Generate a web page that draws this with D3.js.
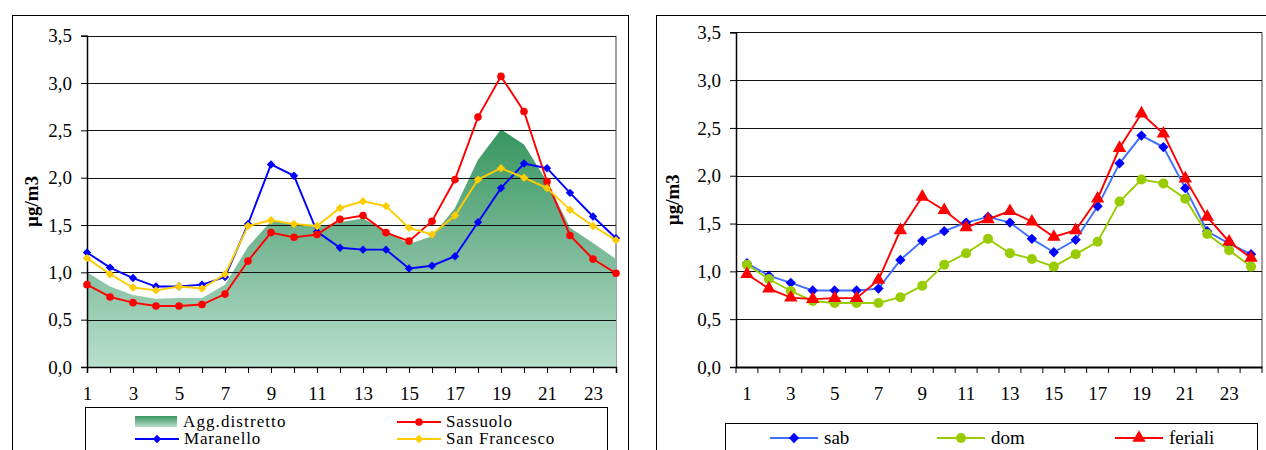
<!DOCTYPE html>
<html><head><meta charset="utf-8">
<script src="https://cdn.jsdelivr.net/npm/d3@7"></script>
<style>
html,body{margin:0;padding:0;background:#fff;}
</style></head>
<body>
<svg id="chart" width="1266" height="450"></svg>
<script>
// ---------- DATA ----------
const hours = d3.range(1, 25);
const yTicks = [0, 0.5, 1.0, 1.5, 2.0, 2.5, 3.0, 3.5];

// Left chart
const aggDistretto = [1.00,0.85,0.76,0.72,0.73,0.73,0.87,1.27,1.54,1.52,1.48,1.53,1.57,1.44,1.30,1.38,1.68,2.19,2.51,2.35,1.96,1.47,1.31,1.14];
const maranello    = [1.21,1.05,0.94,0.85,0.85,0.87,0.95,1.51,2.14,2.02,1.43,1.26,1.24,1.24,1.04,1.07,1.17,1.53,1.89,2.15,2.10,1.84,1.59,1.36];
const sassuolo     = [0.87,0.74,0.68,0.645,0.645,0.66,0.77,1.12,1.42,1.37,1.40,1.56,1.60,1.42,1.33,1.54,1.98,2.64,3.07,2.70,1.96,1.39,1.14,0.99];
const sanFrancesco = [1.15,0.98,0.84,0.81,0.85,0.83,0.98,1.49,1.55,1.51,1.49,1.68,1.75,1.70,1.47,1.40,1.60,1.98,2.10,2.00,1.89,1.66,1.49,1.34];

// Right chart
const sab     = [1.085,0.955,0.88,0.80,0.80,0.80,0.82,1.12,1.32,1.42,1.51,1.57,1.51,1.34,1.20,1.33,1.68,2.13,2.42,2.30,1.87,1.42,1.29,1.18];
const dom     = [1.07,0.92,0.795,0.69,0.67,0.67,0.67,0.73,0.85,1.07,1.19,1.34,1.19,1.13,1.05,1.18,1.31,1.73,1.96,1.92,1.76,1.39,1.22,1.05];
const feriali = [0.97,0.82,0.725,0.71,0.72,0.72,0.91,1.43,1.78,1.64,1.46,1.545,1.63,1.52,1.36,1.43,1.76,2.29,2.65,2.44,1.97,1.57,1.31,1.14];

const yLabel = "µg/m3";
const FONT = "'Liberation Serif', 'Times New Roman', Times, 'DejaVu Serif', serif";
const fmt = d => d3.format(".1f")(d).replace(".", ",");

const svg = d3.select("#chart");
const defs = svg.append("defs");

function addGrad(id){
  const g = defs.append("linearGradient").attr("id", id).attr("x1",0).attr("y1",0).attr("x2",0).attr("y2",1);
  g.append("stop").attr("offset","0%").attr("stop-color","#36965f");
  g.append("stop").attr("offset","45%").attr("stop-color","#74b592");
  g.append("stop").attr("offset","100%").attr("stop-color","#b8dfcb");
}
addGrad("areaGrad");
addGrad("legGrad");

function diamond(s){ return d3.symbol().type(d3.symbolDiamond2).size(s)(); }

// ---------- LEFT CHART ----------
(function(){
  const L = 87, R = 616, T = 35.7, B = 367;
  svg.append("rect").attr("x",12.5).attr("y",15.5).attr("width",616).attr("height",500)
     .attr("fill","none").attr("stroke","#000").attr("stroke-width",1);

  const x = d3.scalePoint().domain(hours).range([L, R]);
  const y = d3.scaleLinear().domain([0, 3.5]).range([B, T]);

  svg.append("line").attr("x1",R).attr("x2",R).attr("y1",T).attr("y2",B).attr("stroke","#808080").attr("stroke-width",1.5);

  const area = d3.area().x((d,i)=>x(hours[i])).y0(y(0)).y1(d=>y(d));
  svg.append("path").datum(aggDistretto).attr("d", area).attr("fill","url(#areaGrad)");

  svg.append("g").selectAll("line").data(yTicks.filter(d=>d>0)).join("line")
     .attr("x1",L).attr("x2",R).attr("y1",d=>Math.round(y(d))+0.5).attr("y2",d=>Math.round(y(d))+0.5)
     .attr("stroke","#111").attr("stroke-width",1);

  const ya = svg.append("g").attr("transform",`translate(${L},0)`)
     .call(d3.axisLeft(y).tickValues(yTicks).tickFormat(fmt).tickSize(6).tickPadding(9));
  ya.select(".domain").attr("stroke","#000").attr("stroke-width",1.5);
  ya.selectAll("text").attr("font-size",19);

  const xa = svg.append("g").attr("transform",`translate(0,${B})`)
     .call(d3.axisBottom(x).tickValues(hours).tickFormat(d=> d%2 ? d : "").tickSize(6).tickPadding(14));
  xa.select(".domain").attr("stroke","#000").attr("stroke-width",1.5);
  xa.selectAll("text").attr("font-size",19);

  svg.append("text").attr("transform",`translate(38,${(T+B)/2}) rotate(-90)`)
     .attr("text-anchor","middle").attr("font-size",19).attr("font-weight","bold").text(yLabel);

  const line = d3.line().x((d,i)=>x(hours[i])).y(d=>y(d));
  const series = [
    {data: maranello, color:"#0000ff", mk:"diamond"},
    {data: sassuolo, color:"#ff0000", mk:"circle"},
    {data: sanFrancesco, color:"#ffcc00", mk:"diamond"}
  ];
  series.forEach(s=>{
    svg.append("path").datum(s.data).attr("d",line).attr("fill","none").attr("stroke",s.color).attr("stroke-width",1.9);
    const g = svg.append("g");
    s.data.forEach((v,i)=>{
      if(s.mk==="circle") g.append("circle").attr("cx",x(hours[i])).attr("cy",y(v)).attr("r",3.8).attr("fill",s.color);
      else g.append("path").attr("d",diamond(45)).attr("transform",`translate(${x(hours[i])},${y(v)})`).attr("fill",s.color);
    });
  });

  // legend
  svg.append("rect").attr("x",85.5).attr("y",407.5).attr("width",522).attr("height",100)
     .attr("fill","#fff").attr("stroke","#000").attr("stroke-width",1);
  svg.append("rect").attr("x",135).attr("y",416).attr("width",42).attr("height",11).attr("fill","url(#legGrad)");
  svg.append("text").attr("x",183).attr("y",427).attr("font-size",17).attr("letter-spacing",1.1).text("Agg.distretto");
  const leg = [
    {name:"Maranello", color:"#0000ff", mk:"diamond", lx:135, ly:439},
    {name:"Sassuolo", color:"#ff0000", mk:"circle", lx:397, ly:422},
    {name:"San Francesco", color:"#ffcc00", mk:"diamond", lx:397, ly:439}
  ];
  leg.forEach(l=>{
    svg.append("line").attr("x1",l.lx).attr("x2",l.lx+44).attr("y1",l.ly).attr("y2",l.ly).attr("stroke",l.color).attr("stroke-width",1.9);
    if(l.mk==="circle") svg.append("circle").attr("cx",l.lx+22).attr("cy",l.ly).attr("r",3.8).attr("fill",l.color);
    else svg.append("path").attr("d",diamond(45)).attr("transform",`translate(${l.lx+22},${l.ly})`).attr("fill",l.color);
    svg.append("text").attr("x",l.lx+49).attr("y",l.ly+5).attr("font-size",17).attr("letter-spacing",0.8).text(l.name);
  });
})();

// ---------- RIGHT CHART ----------
(function(){
  const L = 736, R = 1262, T = 32.3, B = 367;
  svg.append("rect").attr("x",656.5).attr("y",15.5).attr("width",700).attr("height",500)
     .attr("fill","none").attr("stroke","#000").attr("stroke-width",1);

  const x = d3.scaleBand().domain(hours).range([L, R]);
  const xc = d => x(d) + x.bandwidth()/2;
  const y = d3.scaleLinear().domain([0, 3.5]).range([B, T]);

  svg.append("line").attr("x1",R).attr("x2",R).attr("y1",T).attr("y2",B).attr("stroke","#808080").attr("stroke-width",1.5);

  svg.append("g").selectAll("line").data(yTicks.filter(d=>d>0)).join("line")
     .attr("x1",L).attr("x2",R).attr("y1",d=>Math.round(y(d))+0.5).attr("y2",d=>Math.round(y(d))+0.5)
     .attr("stroke","#111").attr("stroke-width",1);

  const ya = svg.append("g").attr("transform",`translate(${L},0)`)
     .call(d3.axisLeft(y).tickValues(yTicks).tickFormat(fmt).tickSize(6).tickPadding(9));
  ya.select(".domain").attr("stroke","#000").attr("stroke-width",1.5);
  ya.selectAll("text").attr("font-size",19);

  const xa = svg.append("g").attr("transform",`translate(0,${B})`)
     .call(d3.axisBottom(x).tickValues(hours).tickFormat(d=> d%2 ? d : "").tickSize(0).tickPadding(20));
  xa.select(".domain").attr("stroke","#000").attr("stroke-width",2);
  xa.selectAll("text").attr("font-size",19);
  const bounds = hours.map(d=>x(d)).concat([R]);
  svg.append("g").selectAll("line").data(bounds).join("line")
     .attr("x1",d=>d).attr("x2",d=>d).attr("y1",B).attr("y2",B+6).attr("stroke","#000").attr("stroke-width",1);

  svg.append("text").attr("transform",`translate(679,${(T+B)/2}) rotate(-90)`)
     .attr("text-anchor","middle").attr("font-size",19).attr("font-weight","bold").text(yLabel);

  const line = d3.line().x((d,i)=>xc(hours[i])).y(d=>y(d));
  const tri = d3.symbol().type(d3.symbolTriangle).size(78)();
  const series = [
    {data: sab, color:"#3f6fff", mcolor:"#0000ff", mk:"diamond"},
    {data: dom, color:"#99cc00", mcolor:"#99cc00", mk:"circle"},
    {data: feriali, color:"#ff0000", mcolor:"#ff0000", mk:"triangle"}
  ];
  function marker(g, s, cx, cy){
    if(s.mk==="circle") g.append("circle").attr("cx",cx).attr("cy",cy).attr("r",5).attr("fill",s.mcolor);
    else if(s.mk==="diamond") g.append("path").attr("d",diamond(68)).attr("transform",`translate(${cx},${cy})`).attr("fill",s.mcolor);
    else g.append("path").attr("d",tri).attr("transform",`translate(${cx},${cy})`).attr("fill",s.mcolor);
  }
  series.forEach(s=>{
    svg.append("path").datum(s.data).attr("d",line).attr("fill","none").attr("stroke",s.color).attr("stroke-width",1.9);
    const g = svg.append("g");
    s.data.forEach((v,i)=> marker(g, s, xc(hours[i]), y(v)));
  });

  svg.append("rect").attr("x",725.5).attr("y",423.5).attr("width",532).attr("height",100)
     .attr("fill","#fff").attr("stroke","#000").attr("stroke-width",1);
  const leg = [
    {name:"sab", s:series[0], lx:770},
    {name:"dom", s:series[1], lx:937},
    {name:"feriali", s:series[2], lx:1115}
  ];
  leg.forEach(l=>{
    const ly = 438;
    svg.append("line").attr("x1",l.lx).attr("x2",l.lx+48).attr("y1",ly).attr("y2",ly).attr("stroke",l.s.color).attr("stroke-width",1.9);
    marker(svg, l.s, l.lx+24, ly);
    svg.append("text").attr("x",l.lx+54).attr("y",ly+6).attr("font-size",19).text(l.name);
  });
})();

svg.selectAll("text").attr("font-family", null).style("font-family", FONT).attr("fill","#000");
svg.selectAll("g").attr("font-family", null);
</script>
</body></html>
